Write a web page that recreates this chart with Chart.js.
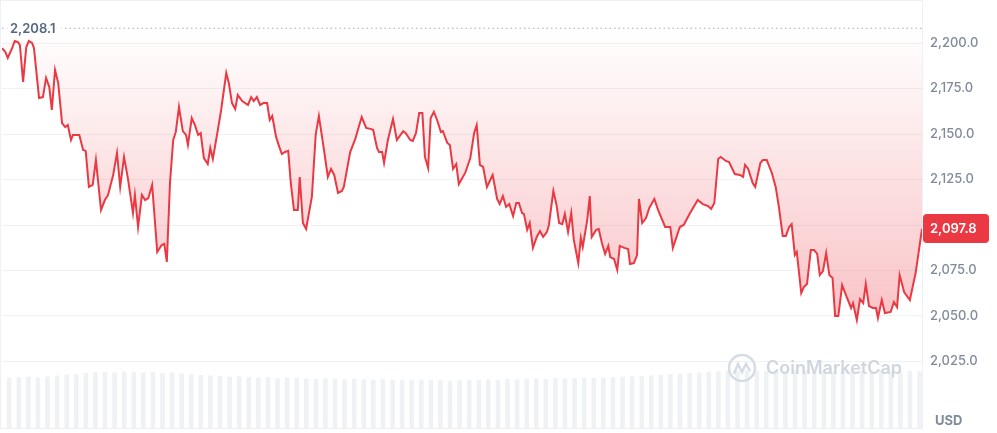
<!DOCTYPE html>
<html>
<head>
<meta charset="utf-8">
<script src="https://cdn.jsdelivr.net/npm/chart.js@4.4.1/dist/chart.umd.min.js"></script>
<style>
  html, body { margin: 0; padding: 0; background: #fff; }
  #wrap { width: 997px; height: 433px; position: relative; }
</style>
</head>
<body>
<div id="wrap"><canvas id="precoChart"></canvas></div>
<script>
// minutes since the start of the 24h window
const minutes = [0,5,9,16,20,25,28,33,38,42,47,50,58,64,69,74,78,83,88,94,99,103,108,111,121,127,131,136,142,147,155,161,166,174,180,185,191,197,205,208,213,219,224,229,235,243,250,254,258,263,268,272,277,283,288,291,
  297,302,307,311,316,322,326,330,337,343,351,355,360,365,369,376,385,390,394,399,404,409,415,419,423,429,434,438,443,448,452,457,463,466,471,476,485,491,496,504,510,515,520,526,532,535,545,553,557,563,570,578,581,
  587,590,595,598,604,612,618,628,632,639,643,648,653,658,662,667,671,676,681,687,690,697,701,706,711,715,725,733,739,743,748,753,759,768,775,779,784,789,794,800,805,809,814,817,822,826,831,837,842,847,853,856,863,868,
  872,877,881,886,891,895,902,906,909,916,920,923,930,934,939,944,949,952,958,963,967,974,980,983,989,994,997,1002,1008,1013,1021,1027,1038,1046,1050,1061,1067,1077,1089,1097,1105,1110,1115,1121,1125,1133,1138,1147,1155,1160,
  1163,1168,1175,1179,1187,1191,1197,1205,1211,1216,1222,1227,1232,1236,1241,1244,1251,1255,1260,1266,1271,1276,1280,1285,1290,1295,1300,1304,1309,1315,1321,1329,1332,1338,1343,1348,1352,1357,1363,1368,1371,1377,1382,1391,1396,1401,1405,1412,1421,1430,1440];

// price in USD
const prices = [2197.1,2195.2,2191.8,2197.3,2201.1,2200.5,2198.9,2178.6,2197.8,2201.1,2200.0,2197.3,2169.8,2170.3,2180.8,2175.8,2163.2,2185.2,2178.0,2156.0,2153.8,2154.9,2146.7,2149.5,2149.5,2141.2,2140.7,2120.9,2122.0,2135.7,2108.2,2113.7,2116.5,2127.5,2139.6,2120.9,2137.4,2125.8,2106.6,2116.5,2098.9,2116.5,2113.7,2114.8,2122.0,2085.2,2089.0,2089.6,2079.7,2123.6,2146.7,2151.1,2164.8,2151.6,2149.5,2144.0,
  2158.8,2154.9,2149.5,2150.5,2136.8,2133.5,2142.3,2136.3,2150.5,2163.2,2183.5,2178.0,2167.0,2163.7,2171.4,2168.1,2165.9,2170.3,2168.1,2170.3,2165.9,2167.0,2167.0,2157.7,2159.9,2148.4,2142.9,2139.0,2140.1,2140.7,2123.1,2108.2,2108.2,2126.4,2101.1,2097.8,2115.4,2149.5,2159.9,2141.2,2126.4,2130.8,2127.5,2117.6,2118.7,2120.9,2140.1,2147.3,2152.2,2159.3,2153.3,2152.7,2152.2,
  2142.3,2140.1,2140.1,2134.1,2146.7,2158.2,2146.7,2151.6,2150.5,2146.7,2146.2,2150.5,2161.5,2161.5,2137.4,2131.3,2158.8,2162.1,2157.7,2151.1,2151.6,2145.1,2144.0,2130.8,2133.5,2122.5,2128.6,2136.8,2150.5,2154.9,2133.0,2131.9,2120.9,2127.5,2114.3,2111.5,2115.9,2109.9,2111.5,2104.9,2112.1,2112.1,2106.6,2106.0,2097.3,2101.1,2087.4,2093.4,2096.7,2093.4,2096.2,2100.0,2118.7,2110.9,
  2101.1,2100.5,2106.0,2096.2,2106.6,2091.8,2079.1,2092.9,2087.9,2102.7,2115.9,2093.4,2097.3,2097.8,2090.1,2084.1,2088.5,2082.4,2081.3,2075.3,2088.5,2087.4,2086.8,2078.6,2079.1,2083.5,2114.3,2101.1,2103.8,2109.3,2114.3,2108.2,2098.9,2098.9,2087.4,2098.9,2100.0,2106.6,2113.7,2111.5,2110.4,2108.8,2112.1,2136.3,2137.4,2135.2,2134.6,2128.0,2127.5,2126.4,
  2133.0,2130.8,2123.1,2120.9,2134.1,2135.7,2135.7,2128.6,2120.9,2109.9,2094.0,2094.0,2098.9,2100.5,2083.5,2085.2,2062.6,2065.9,2067.6,2086.3,2086.3,2084.1,2072.5,2074.7,2084.6,2072.5,2070.9,2050.0,2050.0,2067.0,2061.5,2054.4,2057.1,2047.8,2059.3,2057.1,2067.6,2055.5,2054.4,2054.4,2048.9,2058.8,2051.6,2052.2,2057.7,2054.9,2072.5,2063.2,2058.8,2073.6,2097.8];

// volume per 15 min slot (relative units)
const volumes = [11.8,11.9,12.0,11.8,12.1, 12.3,12.5,12.6,
  12.9,13.0,13.1,13.0,13.2,13.1,13.0,13.1,12.9,13.0,12.8,
  12.6,12.4,12.3,12.2,12.0,12.1,11.9,11.8,11.9,11.7,11.8,11.7,
  11.6,11.5,11.6,11.5,11.4,11.5,11.4,11.3,11.4,11.3,11.2,11.3,11.2,11.3,11.2,11.1,
  11.2,11.3,11.2,11.4,11.3,11.5,11.4,11.5,11.6,11.5,11.7,11.6,11.7,11.8,11.7,11.8,
  11.9,12.0,12.1,12.2,12.3,12.4,12.6,12.7,12.9,13.0,
  13.2,13.3,13.4,13.3,13.5,13.4,13.3,13.5,13.4,13.6,13.5,13.4,13.5,13.3,13.4,13.5,13.4,13.3,13.5,13.4,13.3,13.4,13.3];
const volumeSlots = volumes.map((v, i) => i);

const priceTicks = [2025, 2050, 2075, 2100, 2125, 2150, 2175, 2200];
const openPrice = 2208.1;
const lastPrice = 2097.8;
const currency = 'USD';

const RED = '#ea3943';
const fmt = v => v.toLocaleString('en-US', { minimumFractionDigits: 1, maximumFractionDigits: 1 });

// frame, open price line, price tag, watermark, currency
const extras = {
    id: 'extras',
    beforeDatasetsDraw(chart) {
        const { ctx, chartArea: a } = chart;
        ctx.save();
        ctx.strokeStyle = '#edf0f4';
        ctx.lineWidth = 1;
        ctx.strokeRect(a.left - 1.5, a.top - 0.5, a.right - a.left + 2, a.bottom - a.top + 1);
        ctx.restore();
    },
    afterDatasetsDraw(chart) {
        const { ctx, chartArea: a, scales } = chart;
        ctx.save();

        // watermark
        const cx = a.right - 180, cy = a.bottom - 60;
        ctx.strokeStyle = '#d6dce5';
        ctx.lineWidth = 2.5;
        ctx.beginPath();
        ctx.arc(cx, cy, 13, 0, Math.PI * 2);
        ctx.stroke();
        ctx.beginPath();
        ctx.moveTo(cx - 8, cy + 6);
        ctx.lineTo(cx - 4, cy - 4);
        ctx.lineTo(cx, cy + 4);
        ctx.lineTo(cx + 4, cy - 4);
        ctx.lineTo(cx + 8, cy + 3);
        ctx.stroke();
        ctx.fillStyle = '#d0d6df';
        ctx.font = '600 18px Inter';
        ctx.textAlign = 'left';
        ctx.textBaseline = 'middle';
        ctx.fillText('CoinMarketCap', cx + 24, cy + 1);

        // open price dotted line
        const yo = scales.y.getPixelForValue(openPrice);
        ctx.strokeStyle = '#a7adb8';
        ctx.lineWidth = 1;
        ctx.setLineDash([1.5, 3]);
        ctx.beginPath();
        ctx.moveTo(a.left, yo);
        ctx.lineTo(a.right, yo);
        ctx.stroke();
        ctx.setLineDash([]);
        ctx.fillStyle = 'rgba(255,255,255,0.8)';
        ctx.fillRect(a.left + 2, yo - 10, 58, 20);
        ctx.fillStyle = '#58667e';
        ctx.font = '600 13px Inter';
        ctx.fillText(fmt(openPrice), a.left + 8, yo + 1);

        // last price tag
        const yl = scales.y.getPixelForValue(lastPrice);
        ctx.fillStyle = RED;
        ctx.beginPath();
        ctx.roundRect(a.right + 1, yl - 15, 66, 29, 4);
        ctx.fill();
        ctx.fillStyle = '#fff';
        ctx.font = '600 13px Inter';
        ctx.fillText(fmt(lastPrice), a.right + 8, yl);

        // currency
        ctx.fillStyle = '#808a9d';
        ctx.font = '700 13px Inter';
        ctx.fillText(currency, a.right + 13, a.bottom - 7);
        ctx.restore();
    }
};

const ctx = document.getElementById('precoChart');

new Chart(ctx, {
    data: {
        labels: volumeSlots,
        datasets: [{
            type: 'line',
            data: minutes.map((m, i) => ({ x: m, y: prices[i] })),
            xAxisID: 'x',
            yAxisID: 'y',
            borderColor: RED,
            borderWidth: 2,
            pointRadius: 0,
            tension: 0,
            fill: { value: openPrice },
            backgroundColor: (c) => {
                const { chart } = c;
                if (!chart.chartArea) return 'rgba(234,57,67,0.1)';
                const y = chart.scales.y;
                const g = chart.ctx.createLinearGradient(0, y.getPixelForValue(openPrice), 0, y.getPixelForValue(Math.min(...prices)));
                g.addColorStop(0, 'rgba(234,57,67,0)');
                g.addColorStop(1, 'rgba(234,57,67,0.3)');
                return g;
            },
            order: 0
        }, {
            type: 'bar',
            data: volumes,
            xAxisID: 'xv',
            yAxisID: 'yv',
            backgroundColor: '#eff2f5',
            barPercentage: 0.97,
            categoryPercentage: 1,
            order: 1
        }]
    },
    options: {
        responsive: true,
        maintainAspectRatio: false,
        animation: false,
        layout: { padding: { left: 2, top: 1, right: 0, bottom: 5 } },
        plugins: {
            legend: { display: false },
            tooltip: { enabled: false }
        },
        scales: {
            x: { type: 'linear', min: 0, max: 1440, display: false },
            xv: { type: 'category', display: false },
            yv: { display: false, min: 0, max: 100 },
            y: {
                position: 'right',
                min: 1988.46,
                max: 2223.08,
                afterBuildTicks: s => { s.ticks = priceTicks.map(v => ({ value: v })); },
                afterFit: s => {
                    s.width = 75;
                    s.paddingTop = 0;
                    s.paddingBottom = 0;
                },
                grid: { color: '#eff2f5', drawTicks: false },
                border: { display: false },
                ticks: {
                    padding: 8,
                    color: '#808a9d',
                    font: { family: 'Inter', size: 13, weight: '500' },
                    callback: v => fmt(v)
                }
            }
        }
    },
    plugins: [extras]
});
</script>
</body>
</html>
